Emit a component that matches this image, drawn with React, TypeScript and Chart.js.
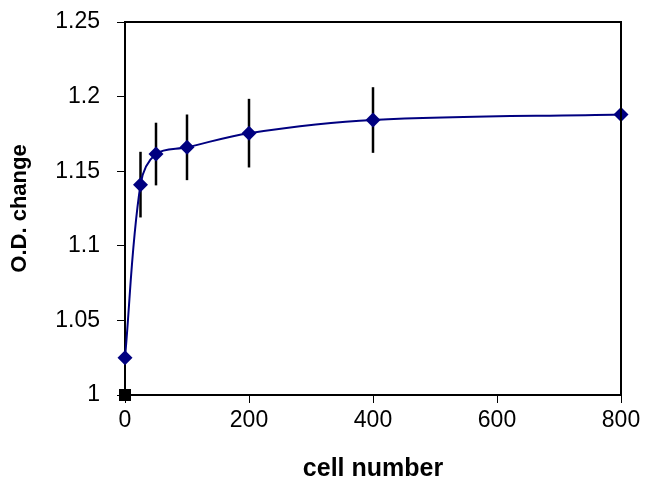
import React, { useEffect, useRef } from "react";
import { Chart, registerables } from "chart.js";

Chart.register(...registerables);

const cellNumbers = [0, 25, 50, 100, 200, 400, 800];
const odChange = [1.025, 1.141, 1.1615, 1.166, 1.1755, 1.1843, 1.188];
const odError = [null, 0.022, 0.021, 0.022, 0.023, 0.022, null];
const blankX = [0];
const blankY = [1];
const xTicks = [0, 200, 400, 600, 800];
const yTicks = [1, 1.05, 1.1, 1.15, 1.2, 1.25];
const yTickLabels = ["1", "1.05", "1.1", "1.15", "1.2", "1.25"];
const xTitle = "cell number";
const yTitle = "O.D. change";

const FONT = "'Liberation Sans', Arial, sans-serif";

const errorBarPlugin = {
  id: "errorBars",
  beforeDatasetsDraw(chart: any) {
    const ctx = chart.ctx;
    const xs = chart.scales.x;
    const ys = chart.scales.y;
    ctx.save();
    ctx.strokeStyle = "#000000";
    ctx.lineWidth = 2.5;
    cellNumbers.forEach((c, i) => {
      const e = odError[i];
      if (e == null) return;
      const px = xs.getPixelForValue(c);
      ctx.beginPath();
      ctx.moveTo(px, ys.getPixelForValue(odChange[i] + e));
      ctx.lineTo(px, ys.getPixelForValue(odChange[i] - e));
      ctx.stroke();
    });
    ctx.restore();
  },
};

const framePlugin = {
  id: "frame",
  afterDraw(chart: any) {
    const { left, right, top, bottom } = chart.chartArea;
    const ctx = chart.ctx;
    ctx.save();
    ctx.strokeStyle = "#000000";
    ctx.lineWidth = 2;
    ctx.beginPath();
    ctx.moveTo(left, top);
    ctx.lineTo(right, top);
    ctx.lineTo(right, bottom);
    ctx.stroke();
    ctx.restore();
  },
};

export default function App() {
  const ref = useRef<HTMLCanvasElement>(null);
  useEffect(() => {
    document.body.style.margin = "0";
    const chart = new Chart(ref.current as HTMLCanvasElement, {
      type: "scatter",
      data: {
        datasets: [
          {
            label: "blank",
            data: blankX.map((x, i) => ({ x, y: blankY[i] })),
            showLine: false,
            pointStyle: "rect",
            pointRadius: 8.5,
            backgroundColor: "#000000",
            borderColor: "#000000",
            borderWidth: 0,
            clip: false as any,
          },
          {
            label: "O.D.",
            data: cellNumbers.map((x, i) => ({ x, y: odChange[i] })),
            showLine: true,
            tension: 0.35,
            borderColor: "#000080",
            borderWidth: 2,
            pointStyle: "rectRot",
            pointRadius: 7.5,
            pointBackgroundColor: "#000080",
            pointBorderColor: "#000080",
            pointBorderWidth: 0,
            clip: false as any,
          },
        ],
      },
      options: {
        animation: false,
        responsive: false,
        events: [],
        layout: { padding: { left: 0, right: 25, top: 22, bottom: 0 } },
        plugins: { legend: { display: false }, tooltip: { enabled: false } },
        scales: {
          x: {
            type: "linear",
            min: 0,
            max: 800,
            afterBuildTicks: (s: any) => {
              s.ticks = xTicks.map((v) => ({ value: v }));
            },
            afterFit: (s: any) => {
              s.height = 91;
              s.paddingLeft = 0;
              s.paddingRight = 0;
            },
            ticks: {
              color: "#000000",
              font: { family: FONT, size: 23 },
              padding: 4,
              maxRotation: 0,
            },
            grid: { display: true, drawOnChartArea: false, tickLength: 8, color: "#000000", lineWidth: 1 },
            border: { display: true, color: "#000000", width: 2 },
            title: {
              display: true,
              text: xTitle,
              color: "#000000",
              font: { family: FONT, size: 25, weight: "bold" },
              padding: { top: 0, bottom: 2 },
            },
          },
          y: {
            type: "linear",
            min: 1,
            max: 1.25,
            afterBuildTicks: (s: any) => {
              s.ticks = yTicks.map((v) => ({ value: v }));
            },
            afterFit: (s: any) => {
              s.width = 125;
              s.paddingTop = 0;
              s.paddingBottom = 0;
            },
            ticks: {
              color: "#000000",
              font: { family: FONT, size: 23 },
              padding: 17,
              callback: (v: any) => {
                const i = yTicks.findIndex((t) => Math.abs(t - v) < 1e-9);
                return i >= 0 ? yTickLabels[i] : "";
              },
            },
            grid: { display: true, drawOnChartArea: false, tickLength: 8, color: "#000000", lineWidth: 1 },
            border: { display: true, color: "#000000", width: 2 },
            title: {
              display: true,
              text: yTitle,
              color: "#000000",
              font: { family: FONT, size: 22, weight: "bold" },
              padding: { top: 7, bottom: 0 },
            },
          },
        },
      },
      plugins: [errorBarPlugin, framePlugin],
    } as any);
    return () => chart.destroy();
  }, []);
  return (
    <div style={{ width: 646, height: 486, background: "#ffffff" }}>
      <canvas ref={ref} width={646} height={486} style={{ display: "block" }} />
    </div>
  );
}
